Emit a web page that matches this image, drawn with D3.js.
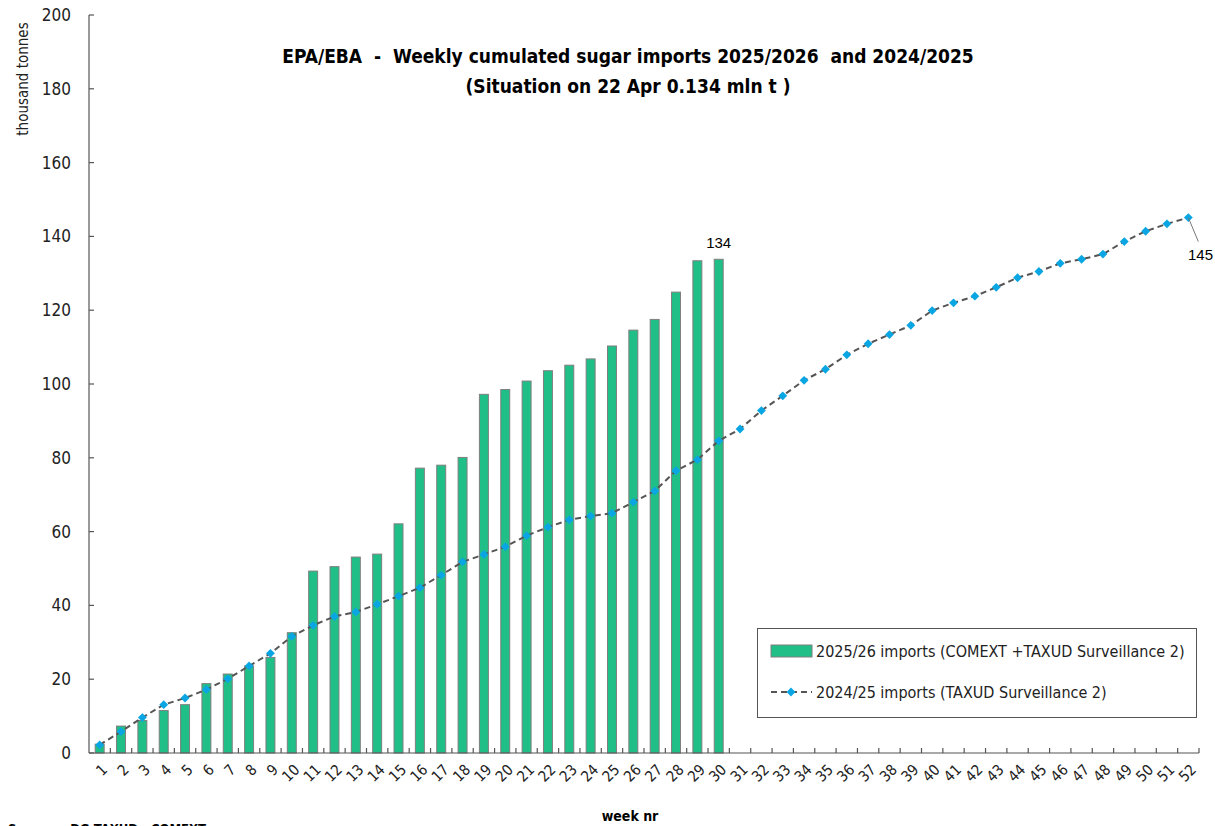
<!DOCTYPE html>
<html>
<head>
<meta charset="utf-8">
<script src="https://cdn.jsdelivr.net/npm/d3@7"></script>
<style>
  body { margin: 0; background: #fff; }
  svg { display: block; }
  .tick-lbl { font-family: "DejaVu Sans Condensed", "DejaVu Sans", sans-serif; fill: #222; }
  .cond { font-family: "Liberation Sans Narrow", "DejaVu Sans Condensed", sans-serif; font-weight: bold; fill: #000; white-space: pre; }
</style>
</head>
<body>
<div id="chart"></div>
<script>
const weeks = d3.range(1, 53)

// 2025/26 cumulated imports (bars), weeks 1-30
const imports2526 = [2.4, 7.3, 8.8, 11.5, 13.1, 18.8, 21.4, 23.6, 25.9, 32.6,
  49.3, 50.5, 53.1, 53.9, 62.1, 77.2, 78.0, 80.1, 97.2, 98.5,
  100.8, 103.6, 105.1, 106.8, 110.3, 114.6, 117.5, 124.9, 133.4, 133.8]

// 2024/25 cumulated imports (line), weeks 1-52
const imports2425 = [2.2, 5.8, 9.6, 13.1, 14.9, 17.2, 20.1, 23.6, 27.0, 31.6,
  34.6, 37.0, 38.2, 40.3, 42.5, 44.8, 48.2, 51.8, 53.8, 55.9,
  58.9, 61.2, 63.2, 64.2, 65.0, 68.0, 71.0, 76.5, 79.5, 84.6,
  87.8, 92.8, 96.8, 101.0, 104.0, 107.9, 110.9, 113.4, 115.9, 119.9,
  122.0, 123.8, 126.2, 128.8, 130.5, 132.7, 133.8, 135.2, 138.6, 141.4,
  143.4, 145.1]

const yTicks = d3.range(0, 201, 20)
const titleLines = ['EPA/EBA  -  Weekly cumulated sugar imports 2025/2026  and 2024/2025',
  '(Situation on 22 Apr 0.134 mln t )']
const legendLabels = ['2025/26 imports (COMEXT +TAXUD Surveillance 2)',
  '2024/25 imports (TAXUD Surveillance 2)']

const width = 1215, height = 826
const mLeft = 89, mRight = 1199, mTop = 15, mBottom = 753

const svg = d3.select('#chart').append('svg')
  .attr('width', width)
  .attr('height', height)

let x = d3.scaleBand()
  .domain(weeks)
  .range([mLeft, mRight])
  .padding(0)

let y = d3.scaleLinear()
  .domain([0, 200])
  .range([mBottom, mTop])

const cx = w => x(w) + x.bandwidth() / 2
const barW = x.bandwidth() * 0.42

// bars
svg.append('g')
  .selectAll('rect')
  .data(imports2526)
  .enter()
  .append('rect')
  .attr('x', (d, i) => cx(i + 1) - barW / 2)
  .attr('y', d => y(d))
  .attr('width', barW)
  .attr('height', d => mBottom - y(d))
  .attr('fill', '#1fbf87')
  .attr('stroke', '#7f7f7f')
  .attr('stroke-width', 1)

// axes
const axisG = svg.append('g').attr('stroke', '#555').attr('stroke-width', 1.2)
axisG.append('line').attr('x1', mLeft).attr('x2', mLeft).attr('y1', mTop).attr('y2', mBottom)
axisG.append('line').attr('x1', mLeft).attr('x2', mRight).attr('y1', mBottom).attr('y2', mBottom)

axisG.selectAll('.yt')
  .data(yTicks)
  .enter()
  .append('line')
  .attr('x1', mLeft).attr('x2', mLeft + 5)
  .attr('y1', d => y(d)).attr('y2', d => y(d))

axisG.selectAll('.xt')
  .data(weeks)
  .enter()
  .append('line')
  .attr('x1', d => x(d) + x.bandwidth()).attr('x2', d => x(d) + x.bandwidth())
  .attr('y1', mBottom).attr('y2', mBottom - 5)

svg.selectAll('.ylab')
  .data(yTicks)
  .enter()
  .append('text')
  .attr('class', 'tick-lbl')
  .attr('x', 71)
  .attr('y', d => y(d))
  .attr('dy', '0.35em')
  .attr('text-anchor', 'end')
  .attr('font-size', 17)
  .text(d => d)

svg.selectAll('.xlab')
  .data(weeks)
  .enter()
  .append('text')
  .attr('class', 'tick-lbl')
  .attr('text-anchor', 'end')
  .attr('font-size', 15)
  .attr('transform', d => `translate(${cx(d) + 5},${mBottom + 14}) rotate(-45)`)
  .attr('dy', '0.35em')
  .text(d => d)

// line 2024/25
const line = d3.line()
  .x((d, i) => cx(i + 1))
  .y(d => y(d))

svg.append('path')
  .datum(imports2425)
  .attr('d', line)
  .attr('fill', 'none')
  .attr('stroke', '#555')
  .attr('stroke-width', 2)
  .attr('stroke-dasharray', '6,4')

const diamond = d3.symbol().type(d3.symbolDiamond2 || d3.symbolDiamond).size(50)

svg.append('g')
  .selectAll('path')
  .data(imports2425)
  .enter()
  .append('path')
  .attr('d', diamond)
  .attr('transform', (d, i) => `translate(${cx(i + 1)},${y(d)})`)
  .attr('fill', '#0aa6e4')

// value labels
const lastBar = imports2526.length
svg.append('text')
  .attr('x', cx(lastBar))
  .attr('y', y(imports2526[lastBar - 1]) - 11)
  .attr('text-anchor', 'middle')
  .attr('font-family', 'Liberation Sans, Arial, sans-serif')
  .attr('font-size', 15)
  .text(Math.round(imports2526[lastBar - 1]))

const lastLine = imports2425.length
svg.append('line')
  .attr('x1', cx(lastLine)).attr('y1', y(imports2425[lastLine - 1]))
  .attr('x2', cx(lastLine) + 10).attr('y2', y(imports2425[lastLine - 1]) + 24)
  .attr('stroke', '#777')
  .attr('stroke-width', 1)

svg.append('text')
  .attr('x', 1213)
  .attr('y', y(imports2425[lastLine - 1]) + 42)
  .attr('text-anchor', 'end')
  .attr('font-family', 'Liberation Sans, Arial, sans-serif')
  .attr('font-size', 15)
  .text(Math.round(imports2425[lastLine - 1]))

// titles
svg.selectAll('.title')
  .data(titleLines)
  .enter()
  .append('text')
  .attr('class', 'cond')
  .attr('x', 628)
  .attr('y', (d, i) => 63 + i * 30)
  .attr('text-anchor', 'middle')
  .attr('font-size', 19)
  .text(d => d)

svg.append('text')
  .attr('class', 'tick-lbl')
  .attr('transform', 'translate(28,79) rotate(-90)')
  .attr('text-anchor', 'middle')
  .attr('font-size', 15)
  .text('thousand tonnes')

svg.append('text')
  .attr('class', 'cond')
  .attr('x', 630)
  .attr('y', 821)
  .attr('text-anchor', 'middle')
  .attr('font-size', 14)
  .text('week nr')

svg.append('text')
  .attr('class', 'cond')
  .attr('x', 8)
  .attr('y', 833)
  .attr('font-size', 13)
  .text('Source :  DG TAXUD - COMEXT')

// legend
const legend = svg.append('g')
legend.append('rect')
  .attr('x', 757.5).attr('y', 628.5)
  .attr('width', 439).attr('height', 89)
  .attr('fill', '#fff')
  .attr('stroke', '#555')

legend.append('rect')
  .attr('x', 771).attr('y', 645)
  .attr('width', 41).attr('height', 12)
  .attr('fill', '#1fbf87')
  .attr('stroke', '#7f7f7f')

legend.append('line')
  .attr('x1', 771).attr('x2', 812)
  .attr('y1', 692).attr('y2', 692)
  .attr('stroke', '#555')
  .attr('stroke-width', 2)
  .attr('stroke-dasharray', '6,4')

legend.append('path')
  .attr('d', diamond)
  .attr('transform', 'translate(791,692)')
  .attr('fill', '#0aa6e4')

legend.selectAll('.lt')
  .data(legendLabels)
  .enter()
  .append('text')
  .attr('class', 'tick-lbl')
  .attr('x', 816)
  .attr('y', (d, i) => 651 + i * 41)
  .attr('dy', '0.35em')
  .attr('font-size', 16)
  .text(d => d)
</script>
</body>
</html>
